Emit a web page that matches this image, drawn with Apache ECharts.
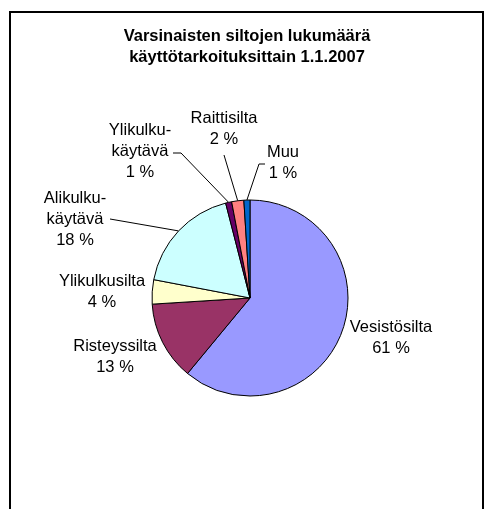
<!DOCTYPE html>
<html lang="fi">
<head>
    <meta charset="UTF-8">
    <title>Varsinaisten siltojen lukumäärä</title>
    <style>
        html, body { margin: 0; padding: 0; background: #fff; }
        #main { width: 484px; height: 509px; }
    </style>
</head>
<body>
    <div id="main"></div>
    <script src="https://cdn.jsdelivr.net/npm/echarts@6/dist/echarts.min.js"></script>
    <script type="text/javascript">
        // data
        var categories = ['Vesistösilta', 'Risteyssilta', 'Ylikulkusilta', 'Alikulku-\nkäytävä', 'Ylikulku-\nkäytävä', 'Raittisilta', 'Muu'];
        var shares = [61, 13, 4, 18, 1, 2, 1];
        var colors = ['#9999FF', '#993366', '#FFFFCC', '#CCFFFF', '#660066', '#FF8080', '#0066CC'];

        // label placement (Excel style), label centre + leader line points
        var labelPlace = [
            { x: 391, y: 338 },
            { x: 115, y: 357 },
            { x: 102, y: 292 },
            { x: 75, y: 219, line: [[110, 219]] },
            { x: 140, y: 151, line: [[181, 153], [173, 153]] },
            { x: 224, y: 129, line: [[224, 155]] },
            { x: 283, y: 163, line: [[259, 164], [265, 164]] }
        ];

        var pieData = [];
        for (var i = 0; i < categories.length; i++) {
            pieData.push({
                name: categories[i],
                value: shares[i],
                labelLine: { show: !!labelPlace[i].line }
            });
        }

        var myChart = echarts.init(document.getElementById('main'));

        var option = {
            animation: false,
            color: colors,
            title: {
                text: 'Varsinaisten siltojen lukumäärä\nkäyttötarkoituksittain 1.1.2007',
                left: 247,
                top: 26,
                padding: 0,
                textAlign: 'center',
                textStyle: {
                    fontFamily: 'Liberation Sans, Arial',
                    fontSize: 16.5,
                    fontWeight: 'bold',
                    lineHeight: 21,
                    color: '#000'
                }
            },
            graphic: [{
                type: 'rect',
                shape: { x: 10, y: 12, width: 473, height: 560 },
                style: { fill: null, stroke: '#000', lineWidth: 2 },
                silent: true
            }],
            series: [{
                type: 'pie',
                center: [250, 298],
                radius: 98,
                startAngle: 90,
                clockwise: true,
                percentPrecision: 0,
                avoidLabelOverlap: false,
                itemStyle: {
                    borderColor: '#000',
                    borderWidth: 1
                },
                label: {
                    show: true,
                    position: 'outside',
                    formatter: '{b}\n{d} %',
                    fontFamily: 'Liberation Sans, Arial',
                    fontSize: 16.5,
                    lineHeight: 21,
                    color: '#000'
                },
                labelLine: {
                    length: 10,
                    length2: 10,
                    lineStyle: { color: '#000', width: 1 }
                },
                emphasis: { disabled: true },
                labelLayout: function (params) {
                    var p = labelPlace[params.dataIndex];
                    var res = {
                        x: p.x,
                        y: p.y,
                        align: 'center',
                        verticalAlign: 'middle'
                    };
                    if (p.line && params.labelLinePoints) {
                        res.labelLinePoints = [params.labelLinePoints[0]].concat(p.line);
                    }
                    return res;
                },
                data: pieData
            }]
        };

        myChart.setOption(option);
    </script>
</body>
</html>
